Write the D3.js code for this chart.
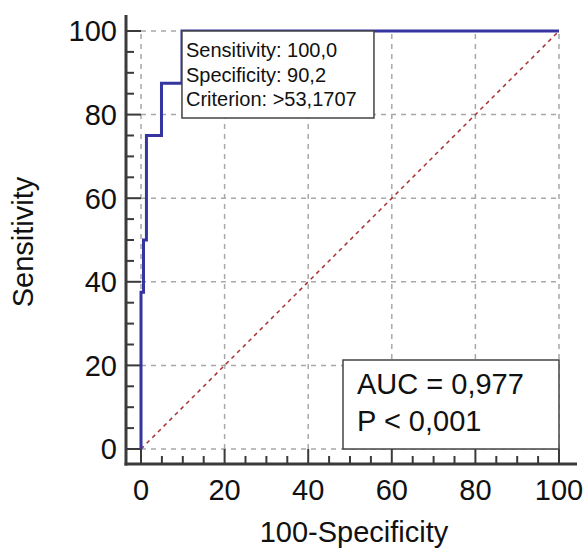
<!DOCTYPE html>
<html>
<head>
<meta charset="utf-8">
<script src="https://cdn.jsdelivr.net/npm/d3@7"></script>
<style>
  body { margin: 0; background: #fff; }
  svg { display: block; font-family: "Liberation Sans", Arial, sans-serif; }
</style>
</head>
<body>
<svg id="chart" width="585" height="550"></svg>
<script>
// ROC curve points (100-Specificity, Sensitivity)
const fpr = [0, 0, 0.6, 0.6, 1.3, 1.3, 4.9, 4.9, 9.8, 9.8, 100];
const sens = [0, 37.5, 37.5, 50, 50, 75, 75, 87.5, 87.5, 100, 100];
const majorTicks = [0, 20, 40, 60, 80, 100];
const minorTicks = d3.range(0, 101, 5);
const criterionLines = ['Sensitivity: 100,0', 'Specificity: 90,2', 'Criterion: >53,1707'];
const statLines = ['AUC = 0,977', 'P < 0,001'];
const criterionPoint = [9.8, 100];

const svg = d3.select('#chart');

const x = d3.scaleLinear().domain([0, 100]).range([141, 559]);
const y = d3.scaleLinear().domain([0, 100]).range([449, 31]);

const axisColor = '#3a3a3a';
const axisX = 126, axisY = 464;

// grid
svg.append('g').selectAll('line')
    .data(majorTicks)
    .enter().append('line')
    .attr('x1', d => x(d)).attr('x2', d => x(d))
    .attr('y1', y(0)).attr('y2', y(100))
    .attr('stroke', '#a8a8a8')
    .attr('stroke-width', 1.5)
    .attr('stroke-dasharray', '5,5');

svg.append('g').selectAll('line')
    .data(majorTicks)
    .enter().append('line')
    .attr('x1', x(0)).attr('x2', x(100))
    .attr('y1', d => y(d)).attr('y2', d => y(d))
    .attr('stroke', '#a8a8a8')
    .attr('stroke-width', 1.5)
    .attr('stroke-dasharray', '5,5');

// diagonal reference
svg.append('line')
    .attr('x1', x(0)).attr('y1', y(0))
    .attr('x2', x(100)).attr('y2', y(100))
    .attr('stroke', '#a83232')
    .attr('stroke-width', 1.5)
    .attr('stroke-dasharray', '4,4');

// axes lines
svg.append('line')
    .attr('x1', axisX).attr('x2', axisX)
    .attr('y1', 15).attr('y2', axisY + 1.5)
    .attr('stroke', axisColor).attr('stroke-width', 3);
svg.append('line')
    .attr('x1', axisX - 1.5).attr('x2', 577)
    .attr('y1', axisY).attr('y2', axisY)
    .attr('stroke', axisColor).attr('stroke-width', 3);

// ticks
svg.append('g').selectAll('line')
    .data(minorTicks)
    .enter().append('line')
    .attr('x1', axisX).attr('x2', d => d % 20 === 0 ? x(0) : axisX + 8)
    .attr('y1', d => y(d)).attr('y2', d => y(d))
    .attr('stroke', axisColor).attr('stroke-width', 2);

svg.append('g').selectAll('line')
    .data(minorTicks)
    .enter().append('line')
    .attr('x1', d => x(d)).attr('x2', d => x(d))
    .attr('y1', axisY).attr('y2', d => d % 20 === 0 ? y(0) : axisY - 8)
    .attr('stroke', axisColor).attr('stroke-width', 2);

// tick labels
svg.append('g').selectAll('text')
    .data(majorTicks)
    .enter().append('text')
    .attr('x', 117)
    .attr('y', d => y(d))
    .attr('dy', '0.36em')
    .attr('text-anchor', 'end')
    .style('font-size', '29px')
    .attr('fill', '#111')
    .text(d => d);

svg.append('g').selectAll('text')
    .data(majorTicks)
    .enter().append('text')
    .attr('x', d => x(d))
    .attr('y', 500)
    .attr('text-anchor', 'middle')
    .style('font-size', '29px')
    .attr('fill', '#111')
    .text(d => d);

// axis titles
svg.append('text')
    .attr('transform', `translate(33,${(y(0) + y(100)) / 2 + 2}) rotate(-90)`)
    .attr('text-anchor', 'middle')
    .style('font-size', '29px')
    .attr('fill', '#111')
    .text('Sensitivity');

svg.append('text')
    .attr('x', 354)
    .attr('y', 542)
    .attr('text-anchor', 'middle')
    .style('font-size', '29px')
    .attr('fill', '#111')
    .text('100-Specificity');

// ROC curve
const rocLine = d3.line()
    .x((d, i) => x(fpr[i]))
    .y((d, i) => y(sens[i]));

svg.append('path')
    .datum(fpr)
    .attr('d', rocLine)
    .attr('fill', 'none')
    .attr('stroke', '#3535a0')
    .attr('stroke-width', 3);

// criterion box
const cb = svg.append('g')
    .attr('transform', `translate(${x(criterionPoint[0])},${y(criterionPoint[1])})`);
cb.append('rect')
    .attr('x', 0).attr('y', 0)
    .attr('width', 192).attr('height', 87)
    .attr('fill', '#fff')
    .attr('stroke', '#444')
    .attr('stroke-width', 1.5);
cb.selectAll('text')
    .data(criterionLines)
    .enter().append('text')
    .attr('x', 4)
    .attr('y', (d, i) => 26 + i * 24.5)
    .style('font-size', '20px')
    .attr('fill', '#111')
    .text(d => d);

// AUC box
const ab = svg.append('g')
    .attr('transform', `translate(${x(100) - 216},${y(0) - 89})`);
ab.append('rect')
    .attr('x', 0).attr('y', 0)
    .attr('width', 216).attr('height', 89)
    .attr('fill', '#fff')
    .attr('stroke', '#444')
    .attr('stroke-width', 1.5);
ab.selectAll('text')
    .data(statLines)
    .enter().append('text')
    .attr('x', 14)
    .attr('y', (d, i) => 34 + i * 37)
    .style('font-size', '29px')
    .attr('fill', '#111')
    .text(d => d);
</script>
</body>
</html>
